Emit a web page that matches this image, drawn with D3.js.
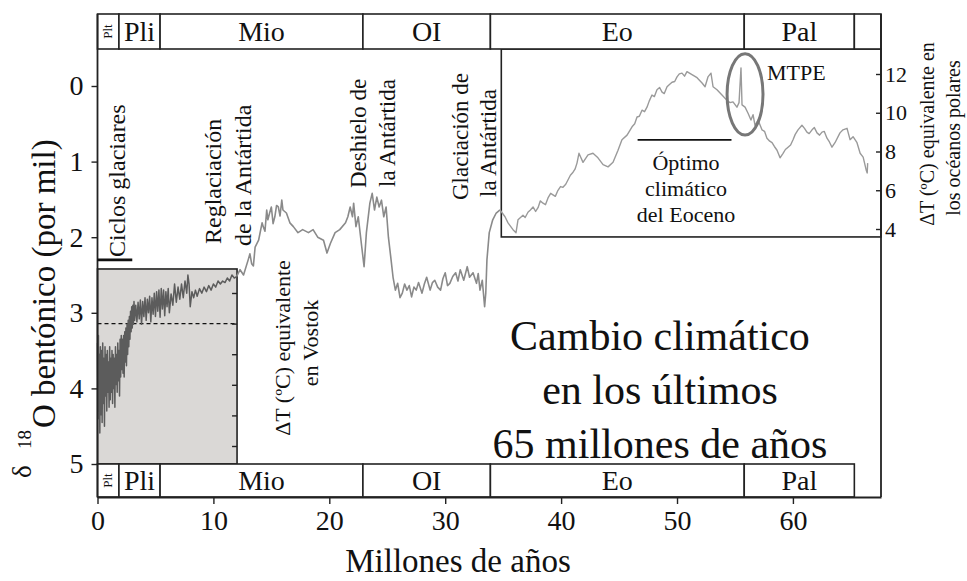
<!DOCTYPE html>
<html><head><meta charset="utf-8">
<script src="https://cdn.jsdelivr.net/npm/d3@7/dist/d3.min.js"></script>
<style>
body{margin:0;background:#fff}
text{font-family:"Liberation Serif","Times New Roman",serif;fill:#111}
</style>
</head><body>
<svg id="c" width="967" height="581"></svg>
<script>
// ---------- DATA ----------
const epochNames = ["Plt","Pli","Mio","OI","Eo","Pal"];
const epochStart = [0, 1.85, 5.4, 22.9, 33.9, 55.8];
const epochEnd   = [1.85, 5.4, 22.9, 33.9, 55.8, 65.3];
const xTicks = [0,10,20,30,40,50,60];
const yTicks = [0,1,2,3,4,5];
const polarTicks = [4,6,8,10,12];
const vostokTicks = [-8,-6,-4,-2,0,2];

// Benthic d18O, 0-12 Ma (Vostok-scaled inset)  [age Ma, d18O]
const leftCurve = [
[0,3.40],[0.04,4.30],[0.08,3.30],[0.12,4.40],[0.16,3.55],[0.2,4.59],[0.25,3.45],[0.3,4.35],[0.35,3.50],[0.4,4.45],
[0.45,3.40],[0.5,4.20],[0.55,3.60],[0.6,4.50],[0.65,3.45],[0.7,4.10],[0.75,3.55],[0.8,4.30],[0.85,3.50],[0.9,4.05],
[0.95,3.65],[1.0,4.25],[1.05,3.45],[1.1,4.15],[1.15,3.60],[1.2,4.05],[1.25,3.50],[1.3,4.20],[1.35,3.55],[1.4,4.00],
[1.45,3.60],[1.5,4.25],[1.55,3.45],[1.6,3.95],[1.65,3.55],[1.7,4.05],[1.75,3.40],[1.8,3.90],[1.85,3.50],[1.9,4.10],
[1.95,3.35],[2.0,3.85],[2.05,3.30],[2.1,3.75],[2.15,3.35],[2.2,3.80],[2.25,3.30],[2.3,3.85],[2.35,3.25],[2.4,3.65],
[2.45,3.20],[2.5,3.70],[2.55,3.15],[2.6,3.55],[2.65,3.10],[2.7,3.45],[2.75,3.05],[2.8,3.35],[2.85,2.98],[2.9,3.25],
[2.95,2.92],[3.0,3.20],[3.05,2.90],[3.1,3.15],[3.15,2.85],[3.2,3.10],
[3.3,2.90],[3.4,3.12],[3.5,2.86],[3.6,3.08],[3.7,2.83],[3.8,3.15],[3.9,2.85],[4.0,3.05],[4.1,2.80],[4.2,3.10],
[4.3,2.82],[4.4,3.00],[4.5,2.78],[4.6,3.12],[4.7,2.80],[4.8,3.02],[4.9,2.74],[5.0,3.05],[5.1,2.72],[5.2,2.98],
[5.3,2.70],[5.4,3.06],[5.5,2.68],[5.6,2.95],[5.7,2.70],[5.8,3.04],[5.9,2.72],[6.0,2.92],[6.1,2.68],[6.2,3.00],
[6.35,2.75],[6.5,2.90],[6.65,2.62],[6.8,2.86],[6.95,2.66],[7.1,2.82],[7.25,2.62],[7.4,2.80],[7.55,2.58],[7.7,2.74],
[7.8,2.50],[7.9,2.62],[8.0,2.92],[8.15,2.72],[8.3,2.80],[8.45,2.70],[8.6,2.78],[8.8,2.68],[9.0,2.74],[9.2,2.66],
[9.4,2.72],[9.6,2.64],[9.8,2.70],[10.0,2.62],[10.2,2.66],[10.4,2.58],[10.6,2.62],[10.8,2.58],[11.0,2.60],[11.2,2.54],
[11.4,2.58],[11.6,2.50],[11.8,2.54],[12.0,2.52]
];

// Benthic d18O, 12-34.5 Ma
const midCurve = [
[12.0,2.52],[12.3,2.43],[12.6,2.50],[13.0,2.30],[13.15,2.22],[13.3,2.35],[13.45,2.38],[13.6,2.13],[13.9,2.04],[14.2,1.81],
[14.3,1.86],[14.45,1.92],[14.6,1.64],[14.7,1.77],[14.85,1.68],[15.0,1.60],[15.15,1.82],[15.3,1.73],[15.45,1.58],[15.6,1.60],
[15.75,1.72],[15.9,1.51],[16.0,1.64],[16.3,1.68],[16.6,1.81],[16.9,1.86],[17.3,1.94],[17.7,1.90],[18.2,1.94],[18.6,1.90],
[19.0,2.00],[19.5,2.04],[19.8,2.21],[20.1,2.08],[20.5,1.94],[20.9,1.90],[21.4,1.81],[21.6,1.73],[21.8,1.60],[22.0,1.73],
[22.1,1.55],[22.3,1.86],[22.5,1.73],[22.8,2.13],[23.0,2.39],[23.2,1.94],[23.5,1.55],[23.7,1.42],[23.9,1.64],[24.1,1.47],
[24.3,1.60],[24.5,1.51],[24.7,1.73],[24.9,1.60],[25.1,2.00],[25.3,2.26],[25.5,2.53],[25.7,2.70],[25.9,2.61],[26.1,2.80],
[26.3,2.74],[26.5,2.62],[26.7,2.70],[26.9,2.64],[27.1,2.79],[27.3,2.66],[27.5,2.70],[27.7,2.60],[28.0,2.74],[28.2,2.62],
[28.4,2.53],[28.7,2.70],[28.9,2.60],[29.1,2.57],[29.35,2.66],[29.6,2.70],[29.8,2.55],[30.0,2.47],[30.2,2.64],[30.4,2.61],
[30.65,2.52],[30.9,2.47],[31.1,2.58],[31.3,2.43],[31.6,2.57],[31.9,2.39],[32.1,2.53],[32.4,2.47],[32.7,2.61],[32.85,2.48],
[33.0,2.70],[33.2,2.57],[33.4,2.92],[33.5,2.74],[33.6,2.30],[33.8,1.94],[34.1,1.77],[34.4,1.68]
];

// Benthic d18O, 34.7-66.4 Ma (polar-ocean inset)
const rightCurve = [
[34.73,1.64],[35.16,1.73],[35.42,1.81],[35.85,1.90],[36.11,1.94],[36.28,1.77],[36.71,1.71],[36.9,1.74],[37.14,1.67],[37.35,1.64],
[37.58,1.60],[37.8,1.66],[38.01,1.61],[38.2,1.52],[38.44,1.55],[38.65,1.57],[38.87,1.48],[39.1,1.42],[39.3,1.44],[39.5,1.46],
[39.73,1.38],[39.95,1.33],[40.16,1.34],[40.4,1.30],[40.6,1.24],[40.8,1.18],[41.03,1.14],[41.2,1.10],[41.37,1.02],[41.54,0.89],
[41.89,1.01],[42.32,0.91],[42.75,0.89],[43.18,0.95],[43.62,1.04],[44.05,1.07],[44.48,1.01],[44.91,0.85],[45.25,0.71],[45.69,0.65],
[46.12,0.54],[46.35,0.50],[46.55,0.41],[46.75,0.40],[46.98,0.32],[47.2,0.34],[47.41,0.28],[47.6,0.20],[47.84,0.12],[48.05,0.14],
[48.27,0.05],[48.5,0.02],[48.71,0.08],[48.9,0.10],[49.14,0.01],[49.35,-0.02],[49.57,-0.05],[49.8,-0.06],[50.0,-0.12],[50.2,-0.16],
[50.43,-0.17],[50.65,-0.13],[50.86,-0.19],[51.29,-0.15],[51.73,-0.11],[52.16,-0.04],[52.42,0.01],[52.67,-0.12],[52.93,-0.17],[53.11,0.01],
[53.45,0.05],[53.88,0.12],[54.31,0.19],[54.57,0.22],[54.83,0.21],[55.17,0.28],[55.35,0.22],[55.52,-0.24],[55.61,0.25],[55.87,0.28],
[56.13,0.36],[56.38,0.45],[56.56,0.38],[56.73,0.52],[56.99,0.45],[57.33,0.58],[57.55,0.60],[57.76,0.69],[58.0,0.73],[58.2,0.75],
[58.4,0.80],[58.63,0.85],[58.89,0.95],[59.15,0.89],[59.35,0.84],[59.58,0.81],[59.8,0.78],[60.01,0.71],[60.2,0.64],[60.44,0.58],
[60.78,0.52],[61.0,0.56],[61.21,0.61],[61.4,0.63],[61.65,0.58],[61.85,0.55],[62.08,0.62],[62.3,0.65],[62.51,0.61],[62.7,0.60],
[62.94,0.69],[63.15,0.74],[63.37,0.81],[63.63,0.75],[64.06,0.62],[64.32,0.58],[64.67,0.56],[64.93,0.71],[65.19,0.67],[65.53,0.75],
[65.8,0.89],[66.06,0.94],[66.32,1.11],[66.41,1.15],[66.45,1.02]
];

const glacialCycles = [0, 3];          // Ma
const optimumRange = [46.6, 54.7];     // Ma
const optimumLevel = 8.6;              // ΔT
const petm = {age: 55.87, dT: 10.95, rAge: 1.55, rDT: 2.1};
const vostokInsetEnd = 12.04, vostokInsetTop = 3.57;
const polarInsetStart = 34.84, polarInsetBottom = 3.59;

// ---------- SCALES ----------
const svg = d3.select("#c");
const x = d3.scaleLinear().domain([0, 67.6]).range([97.5, 881]);
const y = d3.scaleLinear().domain([0, 5]).range([86, 464]);
const yPolar = d3.scaleLinear().domain([4, 12]).range([229, 74]);
const yVostok = d3.scaleLinear().domain([-8, 2]).range([446, 293]);
const topBand = [14, 49], botBand = [464, 497];

const line = d3.line().x(d => x(d[0])).y(d => y(d[1]));

// left gray inset
svg.append("rect").attr("x", x(0)).attr("y", yVostok(vostokInsetTop))
  .attr("width", x(vostokInsetEnd) - x(0)).attr("height", y(5) - yVostok(vostokInsetTop))
  .attr("fill", "#dad8d6").attr("stroke", "#222").attr("stroke-width", 1.6);
svg.append("line").attr("x1", x(0)).attr("x2", x(vostokInsetEnd))
  .attr("y1", yVostok(0)).attr("y2", yVostok(0))
  .attr("stroke", "#111").attr("stroke-width", 1.3).attr("stroke-dasharray", "4,3");
const vAxis = svg.append("g").attr("transform", `translate(${x(vostokInsetEnd)},0)`)
  .call(d3.axisRight(yVostok).tickValues(vostokTicks).tickSize(-5).tickFormat(""));
vAxis.select(".domain").remove();
vAxis.selectAll("line").attr("stroke", "#222").attr("stroke-width", 1.4);

// right inset box
svg.append("rect").attr("x", x(polarInsetStart)).attr("y", topBand[1])
  .attr("width", x(67.6) - x(polarInsetStart)).attr("height", yPolar(polarInsetBottom) - topBand[1])
  .attr("fill", "#fff").attr("stroke", "#222").attr("stroke-width", 1.6);

// curves
svg.append("path").datum(midCurve.concat([rightCurve[0]])).attr("d", line)
  .attr("fill", "none").attr("stroke", "#8a8a8a").attr("stroke-width", 1.6).attr("stroke-linejoin", "round");
svg.append("path").datum(rightCurve).attr("d", line)
  .attr("fill", "none").attr("stroke", "#9a9a9a").attr("stroke-width", 1.4).attr("stroke-linejoin", "round");
svg.append("path").datum(leftCurve).attr("d", line)
  .attr("fill", "none").attr("stroke", "#5c5c5c").attr("stroke-width", 1.5).attr("stroke-linejoin", "round");

// epoch bands
function bands(yy, withTail) {
  const g = svg.append("g");
  epochNames.forEach((n, i) => {
    g.append("rect").attr("x", x(epochStart[i])).attr("y", yy[0])
      .attr("width", x(epochEnd[i]) - x(epochStart[i])).attr("height", yy[1] - yy[0])
      .attr("fill", "#fff").attr("stroke", "#222").attr("stroke-width", 1.6);
    const cx = (x(epochStart[i]) + x(epochEnd[i])) / 2, cy = (yy[0] + yy[1]) / 2;
    if (n === "Plt") {
      g.append("text").attr("transform", `translate(${cx + 4},${cy}) rotate(-90)`)
        .attr("text-anchor", "middle").attr("font-size", 13).text(n);
    } else {
      g.append("text").attr("x", cx).attr("y", cy + 9.5).attr("text-anchor", "middle")
        .attr("font-size", 28).text(n);
    }
  });
  if (withTail) {
    g.append("rect").attr("x", x(epochEnd[5])).attr("y", yy[0])
      .attr("width", x(67.6) - x(epochEnd[5])).attr("height", yy[1] - yy[0])
      .attr("fill", "#fff").attr("stroke", "#222").attr("stroke-width", 1.6);
  }
}
bands(topBand, true);
bands(botBand, false);

// frame
svg.append("line").attr("x1", x(0)).attr("x2", x(0)).attr("y1", topBand[0]).attr("y2", botBand[1]).attr("stroke", "#222").attr("stroke-width", 1.8);
svg.append("line").attr("x1", x(67.6)).attr("x2", x(67.6)).attr("y1", topBand[0]).attr("y2", botBand[1]).attr("stroke", "#222").attr("stroke-width", 1.8);

// axes
const xa = svg.append("g").attr("transform", `translate(0,${botBand[1]})`)
  .call(d3.axisBottom(x).tickValues(xTicks).tickSize(7).tickSizeOuter(0).tickPadding(6).tickFormat(d3.format("d")));
xa.select(".domain").attr("stroke", "#222").attr("stroke-width", 1.8);
xa.selectAll("line").attr("stroke", "#222").attr("stroke-width", 1.4);
xa.selectAll("text").attr("font-size", 28).attr("font-family", "Liberation Serif, serif").attr("fill", "#111");

const ya = svg.append("g").attr("transform", `translate(${x(0)},0)`)
  .call(d3.axisLeft(y).tickValues(yTicks).tickSize(6).tickPadding(8).tickFormat(d3.format("d")));
ya.select(".domain").remove();
ya.selectAll("line").attr("stroke", "#222").attr("stroke-width", 1.4);
ya.selectAll("text").attr("font-size", 28).attr("font-family", "Liberation Serif, serif").attr("fill", "#111");

const pa = svg.append("g").attr("transform", `translate(${x(67.6)},0)`)
  .call(d3.axisRight(yPolar).tickValues(polarTicks).tickSize(-5).tickPadding(4).tickFormat(d3.format("d")));
pa.select(".domain").remove();
pa.selectAll("line").attr("stroke", "#222").attr("stroke-width", 1.4);
pa.selectAll("text").attr("font-size", 22).attr("font-family", "Liberation Serif, serif").attr("fill", "#111");

// annotations
function vtext(xb, yb, str, size, anchor, fill) {
  svg.append("text").attr("transform", `translate(${xb},${yb}) rotate(-90)`)
    .attr("text-anchor", anchor || "start").attr("font-size", size).attr("fill", fill || "#111").text(str);
}
svg.append("line").attr("x1", x(glacialCycles[0])).attr("x2", x(glacialCycles[1]))
  .attr("y1", y(2.3)).attr("y2", y(2.3)).attr("stroke", "#111").attr("stroke-width", 2.6);
vtext(125, 257, "Ciclos glaciares", 24);
vtext(221, 244, "Reglaciación", 24);
vtext(251, 246, "de la Antártida", 24);
vtext(366, 188, "Deshielo de", 23);
vtext(395, 187, "la Antártida", 23);
vtext(468, 200, "Glaciación de", 23);
vtext(496, 197, "la Antártida", 23);
vtext(290, 348, "ΔT (ºC) equivalente", 22, "middle");
vtext(318, 343, "en Vostok", 22, "middle");
vtext(934, 134, "ΔT (ºC) equivalente en", 20, "middle", "#333");
vtext(960, 138, "los océanos polares", 20, "middle", "#333");

// y-axis title
vtext(31, 478, "δ", 27);
vtext(31, 449, "18", 19);
vtext(55, 428, "O bentónico (por mil)", 33);

// x-axis title
svg.append("text").attr("x", 458).attr("y", 572).attr("text-anchor", "middle")
  .attr("font-size", 33).text("Millones de años");

// title
const titleLines = ["Cambio climático", "en los últimos", "65 millones de años"];
titleLines.forEach((t, i) => svg.append("text").attr("x", 660).attr("y", 350 + i * 54)
  .attr("text-anchor", "middle").attr("font-size", 42).text(t));

// Eocene optimum
svg.append("line").attr("x1", x(optimumRange[0])).attr("x2", x(optimumRange[1]))
  .attr("y1", yPolar(optimumLevel)).attr("y2", yPolar(optimumLevel)).attr("stroke", "#111").attr("stroke-width", 1.6);
["Óptimo", "climático", "del Eoceno"].forEach((t, i) => svg.append("text")
  .attr("x", 686).attr("y", 170 + i * 26).attr("text-anchor", "middle").attr("font-size", 22).text(t));

// PETM ellipse
svg.append("ellipse").attr("cx", x(petm.age)).attr("cy", yPolar(petm.dT))
  .attr("rx", x(petm.age + petm.rAge) - x(petm.age))
  .attr("ry", yPolar(petm.dT) - yPolar(petm.dT + petm.rDT))
  .attr("fill", "none").attr("stroke", "#777").attr("stroke-width", 3);
svg.append("text").attr("x", 767).attr("y", 80).attr("font-size", 22).text("MTPE");
</script>
</body></html>
